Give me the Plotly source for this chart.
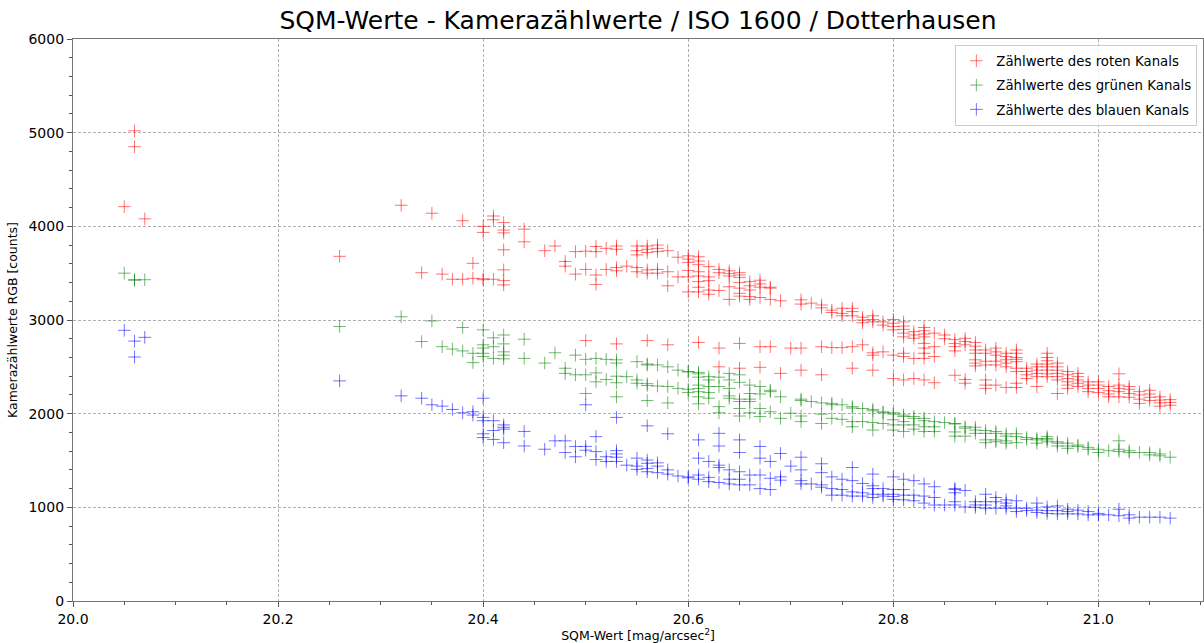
"""
SQM-Werte gegen Kamerazählwerte (RGB) - Streudiagramm
"""

import plotly.graph_objects as go

RED = {
    20.05: [4210], 20.06: [5020, 4850], 20.07: [4080], 20.26: [3680],
    20.32: [4225], 20.34: [3505], 20.35: [4140], 20.36: [3490], 20.37: [3435],
    20.38: [4060, 3435], 20.39: [3605, 3445], 20.40: [4000, 3935, 3440, 3430],
    20.41: [4110, 4070, 3435], 20.42: [4040, 3960, 3930, 3750, 3535, 3420, 3375],
    20.44: [3970, 3835], 20.46: [3740], 20.47: [3790], 20.48: [3625, 3575],
    20.49: [3730, 3490], 20.50: [3735, 3540, 2780], 20.51: [3785, 3730, 3480, 3380],
    20.52: [3765, 3540], 20.53: [3790, 3755, 3560, 3525, 2745], 20.54: [3575],
    20.55: [3790, 3740, 3695, 3560, 3515], 20.56: [3790, 3755, 3720, 3535, 3500, 2780],
    20.57: [3800, 3765, 3730, 3540, 3500], 20.58: [3740, 3515, 3365, 2735],
    20.59: [3670, 3460], 20.60: [3685, 3650, 3615, 3530, 3460, 3300],
    20.61: [3675, 3630, 3590, 3515, 3470, 3410, 3350, 3300, 2760],
    20.62: [3570, 3460, 3420, 3320, 3275], 20.63: [3540, 3505, 3315, 2700, 2500],
    20.64: [3525, 3495, 3470, 3355, 3220],
    20.65: [3505, 3480, 3455, 3400, 3340, 3285, 3255, 2750, 2485],
    20.66: [3410, 3365, 3320, 3250, 3220], 20.67: [3425, 3385, 3350, 3240, 2715, 2495],
    20.68: [3350, 3340, 3220, 2715], 20.69: [3205, 2430], 20.70: [2700],
    20.71: [3215, 3170, 2700, 2465], 20.72: [3180], 20.73: [3160, 3130, 2715, 2415],
    20.74: [3105, 3080, 2705], 20.75: [3125, 3070, 3045, 2705],
    20.76: [3125, 3090, 3045, 2715, 2485], 20.77: [3030, 3000, 2970, 2735],
    20.78: [3045, 3005, 2980, 2650, 2625, 2465], 20.79: [2980, 2945, 2660],
    20.80: [3005, 2965, 2930, 2895, 2625, 2375],
    20.81: [2980, 2935, 2900, 2860, 2820, 2645, 2610, 2360],
    20.82: [2875, 2840, 2805, 2590, 2375],
    20.83: [2920, 2885, 2850, 2820, 2750, 2700, 2645, 2590, 2360],
    20.84: [2860, 2715, 2610, 2330], 20.85: [2840, 2800],
    20.86: [2790, 2750, 2715, 2670, 2410], 20.87: [2805, 2770, 2735, 2365, 2325],
    20.88: [2760, 2720, 2680, 2645, 2575, 2540, 2510],
    20.89: [2680, 2645, 2560, 2520, 2360, 2305, 2270],
    20.90: [2700, 2660, 2625, 2560, 2520, 2305],
    20.91: [2645, 2610, 2575, 2540, 2500, 2280],
    20.92: [2680, 2645, 2600, 2580, 2555, 2485, 2450, 2325, 2280],
    20.93: [2485, 2450, 2415, 2375], 20.94: [2530, 2500, 2465, 2430, 2395, 2290],
    20.95: [2645, 2600, 2565, 2530, 2500, 2465, 2425, 2395],
    20.96: [2540, 2500, 2465, 2430, 2395, 2360, 2215],
    20.97: [2450, 2415, 2375, 2340, 2305, 2270], 20.98: [2430, 2395, 2360, 2325, 2290],
    20.99: [2340, 2305, 2270, 2235], 21.00: [2340, 2305, 2270, 2225],
    21.01: [2290, 2245, 2210, 2180], 21.02: [2425, 2305, 2270, 2235, 2180],
    21.03: [2290, 2260, 2215, 2175], 21.04: [2235, 2200, 2155, 2110],
    21.05: [2250, 2210, 2175, 2140], 21.06: [2180, 2145, 2115, 2080],
    21.07: [2150, 2120, 2090],
}

GREEN = {
    20.05: [3500], 20.06: [3430, 3425], 20.07: [3430], 20.26: [2930],
    20.32: [3035], 20.34: [2770], 20.35: [2990], 20.36: [2715], 20.37: [2690],
    20.38: [2920, 2670], 20.39: [2645, 2545], 20.40: [2895, 2735, 2700, 2645, 2610],
    20.41: [2810, 2715, 2590], 20.42: [2840, 2745, 2660, 2625, 2585],
    20.44: [2795, 2590], 20.46: [2540], 20.47: [2650], 20.48: [2485, 2430],
    20.49: [2625, 2415], 20.50: [2580, 2415, 2215], 20.51: [2590, 2435, 2340],
    20.52: [2580, 2365], 20.53: [2575, 2540, 2400, 2330, 2180], 20.54: [2395],
    20.55: [2555, 2360, 2325], 20.56: [2530, 2520, 2320, 2300, 2140],
    20.57: [2520, 2295], 20.58: [2500, 2290, 2115], 20.59: [2465, 2270],
    20.60: [2450, 2445, 2260, 2225],
    20.61: [2440, 2425, 2390, 2305, 2270, 2235, 2180, 2105],
    20.62: [2395, 2360, 2290, 2225, 2165], 20.63: [2390, 2290, 2075, 2010],
    20.64: [2430, 2360, 2270, 2190, 2165], 20.65: [2415, 2335, 2155, 2130, 2055, 1975],
    20.66: [2305, 2215, 2155, 2130, 2010], 20.67: [2290, 2210, 2055, 1970],
    20.68: [2250, 2235, 2020], 20.69: [2180, 1950], 20.70: [2005],
    20.71: [2155, 2140, 1975, 1915], 20.72: [2130], 20.73: [2115, 1995, 1895],
    20.74: [2110, 2095, 1950], 20.75: [2095, 1940], 20.76: [2075, 2060, 1915, 1860],
    20.77: [2055, 1915], 20.78: [2045, 2030, 1905, 1825], 20.79: [2020, 2010, 1895],
    20.80: [2010, 1995, 1935, 1880, 1825], 20.81: [1985, 1970, 1915, 1880, 1810],
    20.82: [1970, 1950, 1880, 1835], 20.83: [1950, 1925, 1860, 1810],
    20.84: [1915, 1860, 1810], 20.85: [1905], 20.86: [1895, 1890, 1805, 1760],
    20.87: [1860, 1845, 1760], 20.88: [1855, 1825, 1790],
    20.89: [1820, 1790, 1720, 1690], 20.90: [1810, 1790, 1720, 1700],
    20.91: [1785, 1760, 1710, 1685], 20.92: [1785, 1755, 1690], 20.93: [1745, 1725],
    20.94: [1735, 1720, 1685], 20.95: [1755, 1735, 1720, 1700],
    20.96: [1700, 1685, 1655], 20.97: [1685, 1655, 1630], 20.98: [1665, 1650],
    20.99: [1640, 1620], 21.00: [1620, 1585], 21.01: [1605],
    21.02: [1710, 1620, 1595], 21.03: [1605, 1585], 21.04: [1585],
    21.05: [1585, 1560], 21.06: [1570, 1550], 21.07: [1535],
}

BLUE = {
    20.05: [2890], 20.06: [2775, 2605], 20.07: [2815], 20.26: [2350],
    20.32: [2190], 20.34: [2165], 20.35: [2095], 20.36: [2080], 20.37: [2045],
    20.38: [2010], 20.39: [2020, 1985], 20.40: [2165, 1960, 1925, 1785, 1745],
    20.41: [1925, 1820, 1725], 20.42: [1880, 1855, 1835, 1690], 20.44: [1810, 1655],
    20.46: [1620], 20.47: [1710], 20.48: [1710, 1585], 20.49: [1650, 1540],
    20.50: [2095, 1650, 1610], 20.51: [1755, 1595, 1510], 20.52: [1540, 1490],
    20.53: [1960, 1605, 1570, 1535, 1490], 20.54: [1450], 20.55: [1525, 1440, 1405],
    20.56: [1870, 1505, 1470, 1415, 1380], 20.57: [1475, 1440, 1370],
    20.58: [1785, 1400, 1355], 20.59: [1335], 20.60: [1325, 1315],
    20.61: [1720, 1525, 1345, 1300], 20.62: [1490, 1320, 1275],
    20.63: [1790, 1655, 1450, 1425, 1265], 20.64: [1400, 1300, 1250],
    20.65: [1720, 1585, 1380, 1300, 1240], 20.66: [1345, 1240],
    20.67: [1650, 1525, 1345, 1200], 20.68: [1490, 1310, 1190],
    20.69: [1575, 1325, 1290], 20.70: [1440], 20.71: [1535, 1400, 1285, 1250],
    20.72: [1250], 20.73: [1465, 1370, 1240, 1215], 20.74: [1325, 1200, 1130],
    20.75: [1300, 1190, 1130], 20.76: [1425, 1285, 1165, 1120],
    20.77: [1255, 1155, 1120], 20.78: [1355, 1230, 1200, 1140, 1105],
    20.79: [1200, 1140, 1120], 20.80: [1325, 1190, 1140, 1115, 1085],
    20.81: [1300, 1190, 1130, 1080], 20.82: [1285, 1130, 1070],
    20.83: [1250, 1120, 1045], 20.84: [1220, 1105, 1025], 20.85: [1025],
    20.86: [1200, 1190, 1155, 1060, 1025], 20.87: [1180, 1005],
    20.88: [1060, 1025, 1000], 20.89: [1140, 1060, 1025, 990],
    20.90: [1105, 1060, 990], 20.91: [1080, 1045, 1015, 990],
    20.92: [1070, 990, 955], 20.93: [990, 965], 20.94: [1045, 970, 945],
    20.95: [1005, 965, 935], 20.96: [1015, 965, 930], 20.97: [980, 955, 930],
    20.98: [970, 930], 20.99: [955, 920], 21.00: [935, 920], 21.01: [920],
    21.02: [980, 910], 21.03: [920, 885], 21.04: [895], 21.05: [895],
    21.06: [895], 21.07: [885],
}

SERIES = [
    ("Zählwerte des roten Kanals", RED, "rgba(255,0,0,0.55)"),
    ("Zählwerte des grünen Kanals", GREEN, "rgba(0,128,0,0.55)"),
    ("Zählwerte des blauen Kanals", BLUE, "rgba(0,0,255,0.55)"),
]

FONT = "DejaVu Sans, sans-serif"


def flatten(data):
    xs, ys = [], []
    for sqm, counts in data.items():
        for c in counts:
            xs.append(sqm)
            ys.append(c)
    return xs, ys


fig = go.Figure()
for name, data, color in SERIES:
    xs, ys = flatten(data)
    fig.add_trace(go.Scatter(
        x=xs, y=ys, mode="markers", name=name, legendgroup=name,
        marker=dict(symbol="cross-thin", size=9, line=dict(color=color, width=1)),
    ))

fig.update_layout(
    width=1204, height=643,
    paper_bgcolor="white", plot_bgcolor="white",
    font=dict(family=FONT, size=14, color="black"),
    title=dict(text="SQM-Werte - Kamerazählwerte / ISO 1600 / Dotterhausen",
               x=(73 + 1203) / 2 / 1204, xanchor="center", y=0.968, yanchor="middle",
               font=dict(size=25)),
    margin=dict(l=73, r=1, t=39, b=42),
    legend=dict(x=0.995, y=0.99, xanchor="right", yanchor="top",
                bgcolor="rgba(255,255,255,0.8)", bordercolor="#cccccc", borderwidth=1,
                font=dict(size=13.3), tracegroupgap=4),
)

grid = dict(showgrid=True, gridcolor="#b0b0b0", griddash="3px,2px", gridwidth=1,
            showline=True, linecolor="#777777", linewidth=1.2, mirror=True,
            ticks="outside", ticklen=5, tickcolor="#555555", zeroline=False)

fig.update_xaxes(range=[20.0, 21.102], tick0=20.0, dtick=0.2, tickformat=".1f",
                 title=dict(text="SQM-Wert [mag/arcsec<sup>2</sup>]", standoff=4,
                            font=dict(size=12.5)),
                 minor=dict(dtick=0.05, tick0=20.0, ticks="outside", ticklen=3,
                            tickcolor="#555555", showgrid=False),
                 **grid)
fig.update_yaxes(range=[0, 6000], dtick=1000,
                 title=dict(text="Kamerazählwerte RGB [counts]", standoff=8,
                            font=dict(size=12.5)),
                 minor=dict(dtick=200, ticks="outside", ticklen=3,
                            tickcolor="#555555", showgrid=False),
                 **grid)

# die Seite hat sonst 8px Rand, damit die Grafik genau ins Fenster passt
fig.write_html("out.html", config={"displayModeBar": False},
               post_script="document.body.style.margin='0';")
